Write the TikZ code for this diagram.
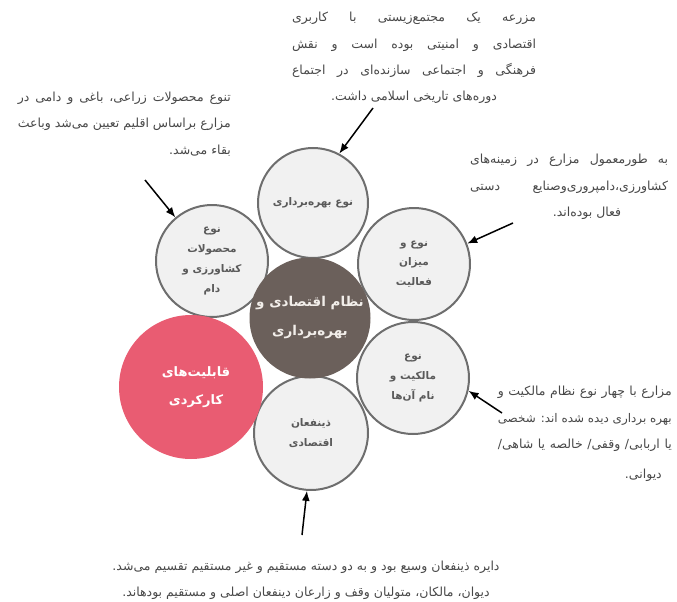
\documentclass[tikz,border=0pt]{standalone}
\usepackage{fontspec}
\usepackage{graphicx}
\newfontfamily\arabicfont[Script=Arabic]{DejaVu Sans}
\TeXXeTstate=1
\usetikzlibrary{arrows.meta}
\definecolor{ringgray}{HTML}{6E6E6E}
\definecolor{petalfill}{HTML}{F1F1F1}
\definecolor{petaltext}{HTML}{5A5A5A}
\definecolor{hubfill}{HTML}{6B605B}
\definecolor{hubtext}{HTML}{F2EEEA}
\definecolor{pinkfill}{HTML}{E95C72}
\definecolor{notetext}{HTML}{484848}
\newcommand{\RL}[1]{\beginR#1\endR}
\newsavebox\jlbox
\newcommand{\JL}[2]{\sbox\jlbox{\beginR#2\endR}\ifdim\wd\jlbox>#1pt\resizebox{#1pt}{!}{\usebox\jlbox}\else\makebox[#1pt][s]{\beginR#2\endR}\fi}
\begin{document}
\begin{tikzpicture}[x=1pt,y=-1pt,
  petal/.style={circle,draw=ringgray,line width=2pt,fill=petalfill,minimum size=#1,inner sep=0pt,text=petaltext,align=center,font=\arabicfont\bfseries\fontsize{10.5}{19.7}\selectfont},
  hub/.style={circle,fill=hubfill,minimum size=#1,inner sep=0pt,text=hubtext,align=center,font=\arabicfont\bfseries\fontsize{13.5}{29}\selectfont},
  feature/.style={circle,fill=pinkfill,minimum size=#1,inner sep=0pt,text=white,align=center,font=\arabicfont\bfseries\fontsize{13}{28}\selectfont},
  note/.style={inner sep=0pt,text=notetext,font=\arabicfont\fontsize{12.5}{26.3}\selectfont},
  arr/.style={-{Latex[length=10pt,width=8pt]},line width=1.5pt,black}]
\useasboundingbox (0,0) rectangle (677,602);

% circles
\node[petal=110] (c1) at (313,203) {\RL{نوع بهره‌برداری}};
\node[petal=112] (c2) at (212,261) {\RL{نوع}\\\RL{محصولات}\\\RL{کشاورزی و}\\\RL{دام}};
\node[petal=112] (c3) at (414,264) {\RL{نوع و}\\\RL{میزان}\\\RL{فعالیت}};
\node[petal=112] (c4) at (413,378) {\RL{نوع}\\\RL{مالکیت و}\\\RL{نام آن‌ها}};
\node[petal=114] (c5) at (311,433) {\RL{ذینفعان}\\\RL{اقتصادی}};
\node[hub=121] (hub) at (310,318) {\RL{نظام اقتصادی و}\\\RL{بهره‌برداری}};
\node[feature=144] (pink) at (191,387) {\hspace*{10pt}\RL{قابلیت‌های}\\\hspace*{10pt}\RL{کارکردی}};

% notes
\node[note,align=center] (n1) at (414,58) {\JL{244}{مزرعه یک مجتمع‌زیستی با کاربری}\\\JL{244}{اقتصادی و امنیتی بوده است و نقش}\\\JL{244}{فرهنگی و اجتماعی سازنده‌ای در اجتماع}\\\RL{دوره‌های تاریخی اسلامی داشت.}};
\node[note,align=right,anchor=east] (n2) at (231,124) {\JL{213}{تنوع محصولات زراعی، باغی و دامی در}\\\JL{213}{مزارع براساس اقلیم تعیین می‌شد وباعث}\\\RL{بقاء می‌شد.}};
\node[note,align=center] (n3) at (569,187) {\JL{198}{به طورمعمول مزارع در زمینه‌های}\\\JL{198}{کشاورزی،دامپروری‌وصنایع دستی}\\\hspace*{36pt}\RL{فعال بوده‌اند.}};
\node[note,align=right,anchor=east] (n4) at (672,434) {\JL{174}{مزارع با چهار نوع نظام مالکیت و}\\\JL{174}{بهره برداری دیده شده اند: شخصی}\\\JL{174}{یا اربابی/ وقفی/ خالصه یا شاهی/}\\[4pt]\RL{دیوانی.}\hspace*{10pt}};
\node[note,align=center] (n5) at (306,580) {\RL{دایره ذینفعان وسیع بود و به دو دسته مستقیم و غیر مستقیم تقسیم می‌شد.}\\\RL{دیوان، مالکان، متولیان وقف و زارعان دینفعان اصلی و مستقیم بودهاند.}};

% arrows
\coordinate (t1) at (373,108);
\coordinate (t2) at (145,180);
\coordinate (t3) at (513,223);
\coordinate (t4) at (502,413);
\coordinate (t5) at (302,535);
\draw[arr] (t1) -- (c1.62);
\draw[arr] (t2) -- (c2.130);
\draw[arr] (t3) -- (c3.21);
\draw[arr] (t4) -- (c4.-13);
\draw[arr] (t5) -- (c5.-94);
\end{tikzpicture}
\end{document}
